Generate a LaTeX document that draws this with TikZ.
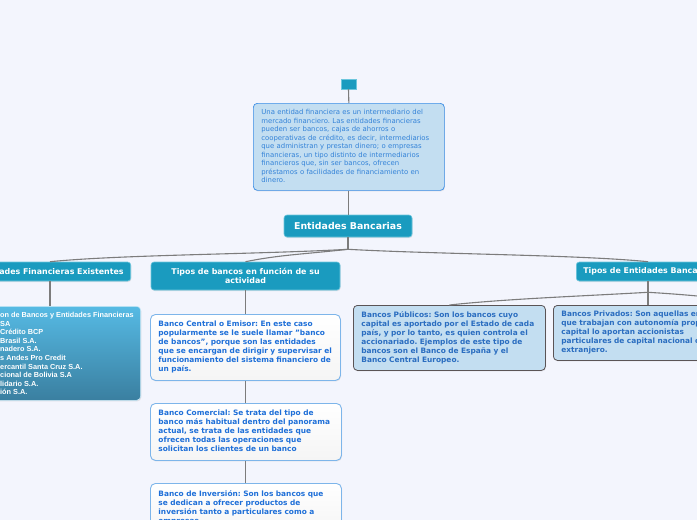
\documentclass[tikz,border=0pt]{standalone}
\usepackage{fontspec}
\setmainfont{DejaVu Sans}
\newfontfamily\arialfont{Liberation Sans}
\usetikzlibrary{shadows,calc}
\frenchspacing
\newcommand\tlines[1]{\begin{tabular}{@{}l@{}}#1\end{tabular}}
\definecolor{bgc}{HTML}{F3F5FD}
\definecolor{tealf}{HTML}{1A9BBF}
\definecolor{teald}{HTML}{6CC6DD}
\definecolor{descf}{HTML}{C3DEF1}
\definecolor{descd}{HTML}{3A8DE6}
\definecolor{desct}{HTML}{3483D8}
\definecolor{bluet}{HTML}{1E6FD8}
\definecolor{pubt}{HTML}{2A6DC0}
\definecolor{pubd}{HTML}{5A5456}
\definecolor{wboxd}{HTML}{7DB5EA}
\definecolor{gradtop}{HTML}{56BAE4}
\definecolor{gradbot}{HTML}{3A7FA0}
\definecolor{linec}{HTML}{7C7C7C}
\begin{document}
\begin{tikzpicture}[x=1pt,y=-1pt,
 conn/.style={draw=linec,line width=1.1pt},
 shad/.style={drop shadow={opacity=0.18,shadow xshift=0.6pt,shadow yshift=-1pt}},
 hdr/.style={shad,rounded corners=3pt,fill=tealf,draw=teald,line width=0.6pt,text=white,
   font=\fontsize{7.9}{9.2}\selectfont\bfseries,inner xsep=7pt,inner ysep=0pt,minimum height=19pt},
 descbox/.style={shad,rounded corners=4pt,fill=descf,draw=descd,line width=0.7pt,text=desct,
   font=\fontsize{6.9}{8.5}\selectfont,align=left,inner xsep=8pt,inner ysep=0pt,anchor=north west},
 wbox/.style={shad,rounded corners=5pt,top color=white,bottom color=white!92!gray,draw=wboxd,line width=0.9pt,text=bluet,
   font=\fontsize{7.4}{9}\selectfont\bfseries,align=left,inner xsep=8pt,inner ysep=0pt,anchor=north west},
 pbox/.style={shad,rounded corners=4pt,fill=descf,draw=pubd,line width=0.8pt,text=pubt,
   font=\fontsize{7.4}{9}\selectfont\bfseries,align=left,inner xsep=8pt,inner ysep=0pt,anchor=north west},
 gbox/.style={shad,rounded corners=4pt,top color=gradtop,bottom color=gradbot,draw=white!70!gradtop,line width=0.6pt},
 gtext/.style={text=white,font=\arialfont\fontsize{7.3}{8.6}\selectfont\bfseries,align=left,inner sep=0pt}
]
\useasboundingbox (0,0) rectangle (697,520);
\clip (0,0) rectangle (697,520);
\fill[bgc] (0,0) rectangle (697,520);

% top
\node[rectangle,fill=tealf,draw=teald,line width=0.5pt,minimum width=15pt,minimum height=10pt,inner sep=0pt] (topsq) at (348.5,84) {};
\node[descbox,minimum width=191pt,minimum height=87pt,text width=175pt] (desc) at (253,103)
 {\tlines{Una entidad financiera es un intermediario del\\
  mercado financiero. Las entidades financieras\\
  pueden ser bancos, cajas de ahorros o\\
  cooperativas de crédito, es decir, intermediarios\\
  que administran y prestan dinero; o empresas\\
  financieras, un tipo distinto de intermediarios\\
  financieros que, sin ser bancos, ofrecen\\
  préstamos o facilidades de financiamiento en\\
  dinero.}};
\node[hdr,font=\fontsize{9.4}{11}\selectfont\bfseries,minimum width=128pt,minimum height=22pt] (eb) at (348,226) {Entidades Bancarias};

% headers
\node[hdr,anchor=east] (lefth) at (131,271.5) {Entidades Financieras Existentes};
\node[hdr,minimum width=189pt,minimum height=28pt,align=center,font=\fontsize{7.9}{9}\selectfont\bfseries] (midh) at (245.5,276) {Tipos de bancos en función de su\\actividad};
\node[hdr,anchor=west] (righth) at (576,271.5) {Tipos de Entidades Bancarias};

% left column
\node[gbox,anchor=north east,minimum width=220pt,minimum height=94pt] (gb) at (141,306) {};
\node[gtext,anchor=west] (gt) at (0,353.5)
 {on de Bancos y Entidades Financieras\\
  SA\\
  Crédito BCP\\
  Brasil S.A.\\
  nadero S.A.\\
  s Andes Pro Credit\\
  ercantil Santa Cruz S.A.\\
  cional de Bolivia S.A\\
  lidario S.A.\\
  ión S.A.};

% middle column
\node[wbox,text width=174pt,minimum height=66pt] (central) at (150,314)
 {\tlines{Banco Central o Emisor: En este caso\\
  popularmente se le suele llamar "banco\\
  de bancos", porque son las entidades\\
  que se encargan de dirigir y supervisar el\\
  funcionamiento del sistema financiero de\\
  un país.}};
\node[wbox,text width=175pt,minimum height=57pt] (comercial) at (150,403)
 {\tlines{Banco Comercial: Se trata del tipo de\\
  banco más habitual dentro del panorama\\
  actual, se trata de las entidades que\\
  ofrecen todas las operaciones que\\
  solicitan los clientes de un banco}};
\node[wbox,text width=175pt,minimum height=50pt] (inversion) at (150,483)
 {\tlines{Banco de Inversión: Son los bancos que\\
  se dedican a ofrecer productos de\\
  inversión tanto a particulares como a\\
  empresas.}};

% right column
\node[pbox,text width=176pt,minimum height=65pt] (publicos) at (353,305)
 {\tlines{Bancos Públicos: Son los bancos cuyo\\
  capital es aportado por el Estado de cada\\
  país, y por lo tanto, es quien controla el\\
  accionariado. Ejemplos de este tipo de\\
  bancos son el Banco de España y el\\
  Banco Central Europeo.}};
\node[pbox,text width=200pt,minimum height=55pt] (privados) at (553,305)
 {\tlines{Bancos Privados: Son aquellas entidades\\
  que trabajan con autonomía propia, cuyo\\
  capital lo aportan accionistas\\
  particulares de capital nacional o\\
  extranjero.}};
\coordinate (offr) at (770,305);

% connectors
\coordinate (ltop) at ($(lefth.north east)+(-81,0)$);
\coordinate (rtop) at ($(righth.north west)+(72,0)$);
\draw[conn] (topsq.south) -- (desc.north);
\draw[conn] (desc.south) -- (desc.south |- eb.north);
\coordinate (j1) at ($(eb.south)+(0,12)$);
\draw[conn] (eb.south) -- (j1);
\draw[conn] (j1) .. controls +(-90,5) and +(70,-7) .. (ltop);
\draw[conn] (j1) .. controls +(-45,5) and +(35,-7) .. (midh.north);
\draw[conn] (j1) .. controls +(90,5) and +(-70,-7) .. (rtop);
\draw[conn] (ltop |- lefth.south) -- (ltop |- gb.north);
\draw[conn] (central.north |- midh.south) -- (central.north);
\draw[conn] (central.south) -- (central.south |- comercial.north);
\draw[conn] (central.south |- comercial.south) -- (central.south |- inversion.north);
\coordinate (j2) at ($(rtop |- righth.south)+(0,11)$);
\draw[conn] (rtop |- righth.south) -- (j2);
\draw[conn] (j2) .. controls +(-70,4) and +(55,-6) .. (publicos.north);
\draw[conn] (j2) -- (j2 |- privados.north);
\draw[conn] (j2) .. controls +(50,3) and +(-40,-6) .. (offr);
\end{tikzpicture}
\end{document}
